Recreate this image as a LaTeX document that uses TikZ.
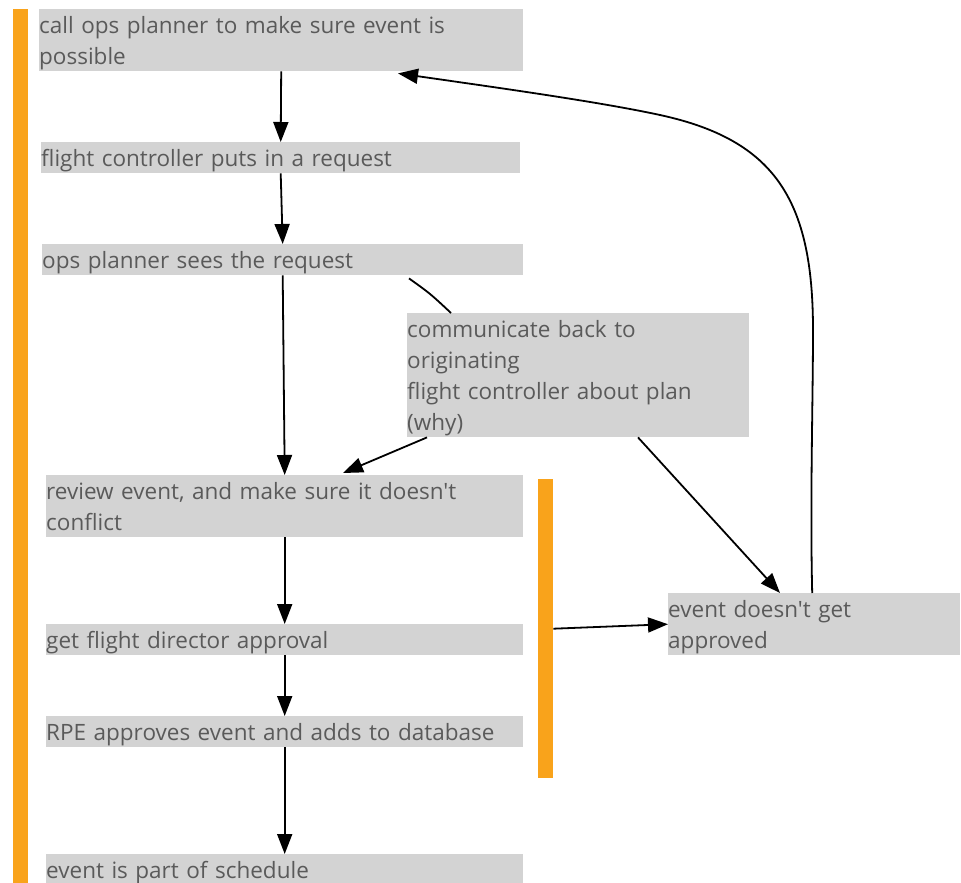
\documentclass[tikz,border=0pt]{standalone}
\usepackage{fontspec}
\setmainfont{Open Sans}[Ligatures=TeXOff]
\usetikzlibrary{arrows.meta,calc}
\definecolor{boxgray}{RGB}{211,211,211}
\definecolor{textgray}{RGB}{90,90,90}
\definecolor{barorange}{RGB}{249,163,27}
\begin{document}
\begin{tikzpicture}[x=1pt,y=-1pt,
  stepbox/.style={fill=boxgray, text=textgray, inner xsep=0pt, inner ysep=0pt,
    align=left, anchor=north west, font=\fontsize{22.5}{31}\selectfont},
  oneline/.style={stepbox, minimum height=31pt, text depth=0pt},
  twolines/.style={stepbox, minimum height=62pt, text depth=30pt},
  fourlines/.style={stepbox, minimum height=124pt, text depth=92pt},
  bar/.style={fill=barorange, inner sep=0pt, anchor=north west, minimum width=15pt},
  arr/.style={draw=black, line width=1.8pt, -{Triangle[length=20pt,width=15pt]}},
  link/.style={draw=black, line width=1.8pt}]
\useasboundingbox (0,0) rectangle (961,883);

% lane bars
\node[bar, minimum height=880pt] (lane) at (13,9) {};
\node[bar, minimum height=299pt] (split) at (538,479) {};

% steps
\node[twolines, text width=484pt] (call) at (39,9)
  {call ops planner to make sure event is\\possible};
\node[oneline, text width=479pt] (request) at (41,142)
  {flight controller puts in a request};
\node[oneline, text width=481pt] (sees) at (42,244)
  {ops planner sees the request};
\node[fourlines, text width=342pt] (comm) at (407,313)
  {communicate back to\\originating\\flight controller about plan\\(why)};
\node[twolines, text width=477pt] (review) at (46,475)
  {review event, and make sure it doesn't\\conflict};
\node[oneline, text width=477pt] (director) at (46,624)
  {get flight director approval};
\node[oneline, text width=477pt] (rpe) at (46,716)
  {RPE approves event and adds to database};
\node[oneline, text width=477pt] (schedule) at (46,854)
  {event is part of schedule};
\node[twolines, text width=292pt] (rejected) at (668,593)
  {event doesn't get\\approved};

% main flow
\draw[arr] (call.south) -- (request.north);
\draw[arr] (request.south) -- (sees.north);
\draw[arr] (sees.south) -- (review.north);
\draw[arr] (review.south) -- (director.north);
\draw[arr] (director.south) -- (rpe.north);
\draw[arr] (rpe.south) -- (schedule.north);

% feedback to the flight controller
\draw[link] ([xshift=367pt,yshift=-3pt]sees.south west) .. controls ([xshift=388pt,yshift=-18pt]sees.south west) .. ([xshift=44pt]comm.north west);
\draw[arr] ([xshift=20pt]comm.south west) -- ([xshift=297pt,yshift=2pt]review.north west);
\draw[arr] ([xshift=231pt]comm.south west) -- ([xshift=112pt]rejected.north west);

% rejection branch
\draw[arr] (split.east) -- (rejected.west);
\draw[arr] ([xshift=-2pt]rejected.north) .. controls (810,500) and (813,400) .. (813,330)
  .. controls (813,200) and (775,140) .. (660,115)
  .. controls (600,102) and (500,88) .. ([xshift=359pt,yshift=-2pt]call.south west);
\end{tikzpicture}
\end{document}
